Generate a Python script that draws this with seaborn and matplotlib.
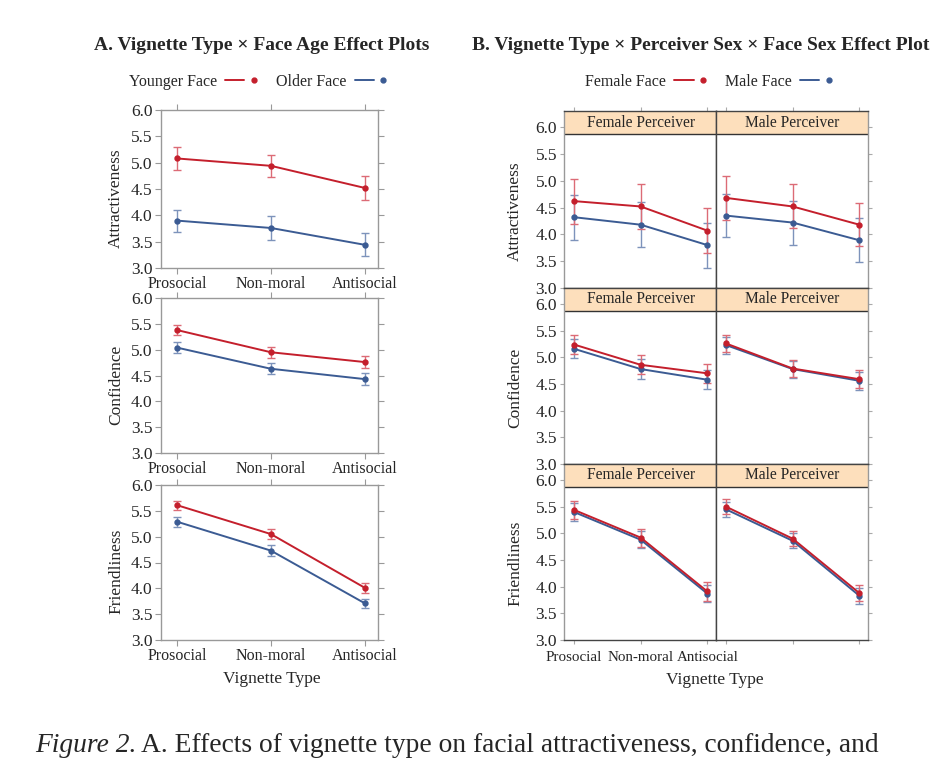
import matplotlib
matplotlib.use("Agg")
import matplotlib.pyplot as plt
from matplotlib.lines import Line2D
from matplotlib.legend_handler import HandlerTuple
import numpy as np
import pandas as pd
import seaborn as sns

vignette = ["Prosocial", "Non-moral", "Antisocial"]
measures = ["Attractiveness", "Confidence", "Friendliness"]
perceivers = ["Female Perceiver", "Male Perceiver"]

# panel A: face age (means, error bar half-widths)
a_young = {"Attractiveness": [5.08, 4.94, 4.52],
           "Confidence": [5.38, 4.95, 4.76],
           "Friendliness": [5.61, 5.05, 4.01]}
a_young_err = {"Attractiveness": [0.21, 0.21, 0.22],
               "Confidence": [0.105, 0.11, 0.11],
               "Friendliness": [0.085, 0.095, 0.095]}
a_old = {"Attractiveness": [3.90, 3.76, 3.44],
         "Confidence": [5.04, 4.63, 4.43],
         "Friendliness": [5.29, 4.73, 3.71]}
a_old_err = {"Attractiveness": [0.21, 0.22, 0.22],
             "Confidence": [0.11, 0.11, 0.115],
             "Friendliness": [0.10, 0.10, 0.09]}

# panel B: perceiver sex x face sex
b_female = {("Attractiveness", "Female Perceiver"): [4.62, 4.52, 4.07],
            ("Attractiveness", "Male Perceiver"): [4.68, 4.52, 4.18],
            ("Confidence", "Female Perceiver"): [5.24, 4.86, 4.70],
            ("Confidence", "Male Perceiver"): [5.26, 4.79, 4.59],
            ("Friendliness", "Female Perceiver"): [5.44, 4.92, 3.91],
            ("Friendliness", "Male Perceiver"): [5.50, 4.90, 3.88]}
b_female_err = {("Attractiveness", "Female Perceiver"): [0.42, 0.42, 0.42],
                ("Attractiveness", "Male Perceiver"): [0.41, 0.41, 0.40],
                ("Confidence", "Female Perceiver"): [0.18, 0.18, 0.18],
                ("Confidence", "Male Perceiver"): [0.16, 0.16, 0.17],
                ("Friendliness", "Female Perceiver"): [0.17, 0.17, 0.17],
                ("Friendliness", "Male Perceiver"): [0.14, 0.14, 0.15]}
b_male = {("Attractiveness", "Female Perceiver"): [4.32, 4.18, 3.80],
          ("Attractiveness", "Male Perceiver"): [4.35, 4.22, 3.89],
          ("Confidence", "Female Perceiver"): [5.16, 4.78, 4.58],
          ("Confidence", "Male Perceiver"): [5.23, 4.78, 4.56],
          ("Friendliness", "Female Perceiver"): [5.40, 4.88, 3.87],
          ("Friendliness", "Male Perceiver"): [5.45, 4.86, 3.83]}
b_male_err = {("Attractiveness", "Female Perceiver"): [0.42, 0.42, 0.42],
              ("Attractiveness", "Male Perceiver"): [0.40, 0.41, 0.41],
              ("Confidence", "Female Perceiver"): [0.18, 0.18, 0.18],
              ("Confidence", "Male Perceiver"): [0.16, 0.16, 0.17],
              ("Friendliness", "Female Perceiver"): [0.16, 0.16, 0.16],
              ("Friendliness", "Male Perceiver"): [0.14, 0.14, 0.15]}

RED, BLUE = "#c41f2c", "#3b5b93"
RED_E, BLUE_E = "#dc6b76", "#7d93bb"
PEACH = "#fddfbc"

rows = []
for m in measures:
    for face, vals, errs in [("Older Face", a_old, a_old_err), ("Younger Face", a_young, a_young_err)]:
        for v, y, e in zip(vignette, vals[m], errs[m]):
            rows.append(dict(measure=m, face=face, vignette=v, mean=y, err=e))
df_a = pd.DataFrame(rows)

rows = []
for (m, p) in b_female:
    for face, vals, errs in [("Male Face", b_male, b_male_err), ("Female Face", b_female, b_female_err)]:
        for v, y, e in zip(vignette, vals[(m, p)], errs[(m, p)]):
            rows.append(dict(measure=m, perceiver=p, face=face, vignette=v, mean=y, err=e))
df_b = pd.DataFrame(rows)

sns.set_style("white")
plt.rcParams["font.family"] = ["Liberation Serif", "DejaVu Serif"]

W, H = 930, 780
fig = plt.figure(figsize=(9.3, 7.8), dpi=100)


def rect(l, t, r, b):
    return [l / W, 1 - b / H, (r - l) / W, (b - t) / H]


def draw(ax, sub, hue_order, palette, ecolors):
    xs = np.arange(len(vignette))
    for face, ec in zip(hue_order, ecolors):
        s = sub[sub.face == face].set_index("vignette").loc[vignette]
        ax.errorbar(xs, s["mean"], yerr=s["err"], fmt="none", ecolor=ec,
                    elinewidth=1, capsize=3, capthick=1, zorder=1)
    sns.pointplot(data=sub, x="vignette", y="mean", hue="face", order=vignette,
                  hue_order=hue_order, palette=palette, errorbar=None,
                  markersize=3.5, linewidth=1.4, legend=False, ax=ax)
    ax.set_xlabel("")
    ax.set_ylabel("")
    ax.set_yticks(np.arange(3.0, 6.01, 0.5))
    ax.set_yticklabels([f"{t:.1f}" for t in np.arange(3.0, 6.01, 0.5)])


# ---------- panel A ----------
a_rects = [(161, 110, 378, 268), (161, 298, 378, 453), (161, 485, 378, 640)]
for m, r in zip(measures, a_rects):
    ax = fig.add_axes(rect(*r))
    draw(ax, df_a[df_a.measure == m], ["Older Face", "Younger Face"],
         {"Older Face": BLUE, "Younger Face": RED}, [BLUE_E, RED_E])
    ax.set_xlim(-0.17, 2.14)
    ax.set_ylim(3.0, 6.0)
    for s in ax.spines.values():
        s.set_color("#999999")
        s.set_linewidth(1)
    ax.tick_params(axis="both", direction="out", length=4, width=0.8, color="#999999",
                   top=True, right=True, left=True, bottom=True, pad=2)
    ax.tick_params(axis="x", labelsize=11.5)
    ax.tick_params(axis="y", labelsize=12.5)
    ax.set_ylabel(m, fontsize=12.5)
    ax.yaxis.set_label_coords(-0.17, 0.44)

fig.text(262 / W, 1 - 46 / H, "A. Vignette Type \u00d7 Face Age Effect Plots",
         ha="center", va="center", fontsize=14, fontweight="bold")
fig.text(272 / W, 1 - 679 / H, "Vignette Type", ha="center", va="center", fontsize=12.5)

# ---------- panel B ----------
b_cols = [(564, 716), (716, 868)]
b_rows = [(111, 288), (288, 464), (464, 640)]
for i, m in enumerate(measures):
    for j, p in enumerate(perceivers):
        (l, r_), (t, b) = b_cols[j], b_rows[i]
        ax = fig.add_axes(rect(l, t, r_, b))
        sub = df_b[(df_b.measure == m) & (df_b.perceiver == p)]
        draw(ax, sub, ["Male Face", "Female Face"],
             {"Male Face": BLUE, "Female Face": RED}, [BLUE_E, RED_E])
        ax.set_xlim(-0.15, 2.13)
        ax.set_ylim(3.0, 6.3)
        ax.axhspan(5.87, 6.3, color=PEACH, zorder=0, lw=0)
        ax.axhline(5.87, color="#333333", lw=1, zorder=2)
        ax.text(1.0, 6.085, p, ha="center", va="center", fontsize=11.2)
        for s in ax.spines.values():
            s.set_color("#444444")
            s.set_linewidth(1)
        if j == 0:
            ax.spines["left"].set_color("#999999")
        else:
            ax.spines["right"].set_color("#999999")
        ax.tick_params(axis="both", direction="out", length=3, width=0.8, color="#aaaaaa",
                       top=(i == 0), bottom=(i == 2), left=(j == 0), right=(j == 1),
                       labelleft=(j == 0), labelbottom=(i == 2 and j == 0), pad=2)
        ax.tick_params(axis="x", labelsize=10.8, pad=5)
        ax.tick_params(axis="y", labelsize=12.5)
        if j == 0:
            ax.set_ylabel(m, fontsize=12.5)
            ax.yaxis.set_label_coords(-0.27, 0.435)

fig.text(472 / W, 1 - 46 / H,
         "B. Vignette Type \u00d7 Perceiver Sex \u00d7 Face Sex Effect Plots",
         ha="left", va="center", fontsize=14, fontweight="bold")
fig.text(715 / W, 1 - 680 / H, "Vignette Type", ha="center", va="center", fontsize=12.5)

# ---------- legends ----------
def handles(c):
    return (Line2D([], [], color=c, lw=1.4), Line2D([], [], color=c, lw=0, marker="o", markersize=3.5))


for labels, cx in [(["Younger Face", "Older Face"], 261), (["Female Face", "Male Face"], 712)]:
    fig.legend(handles=[handles(RED), handles(BLUE)], labels=labels,
               handler_map={tuple: HandlerTuple(ndivide=None, pad=0)},
               markerfirst=False, ncol=2, frameon=False, loc="center",
               bbox_to_anchor=(cx / W, 1 - 82 / H), fontsize=11.5,
               handlelength=2.4, columnspacing=0.8, handletextpad=0.5)

# ---------- caption ----------
t1 = fig.text(35 / W, 1 - 745 / H, "Figure 2.", ha="left", va="center",
              fontsize=19.8, fontstyle="italic")
fig.canvas.draw()
bb = t1.get_window_extent(renderer=fig.canvas.get_renderer())
fig.text(bb.x1 / W + 5 / W, 1 - 745 / H,
         "A. Effects of vignette type on facial attractiveness, confidence, and",
         ha="left", va="center", fontsize=19.8)

fig.savefig("out.png", dpi=100)
